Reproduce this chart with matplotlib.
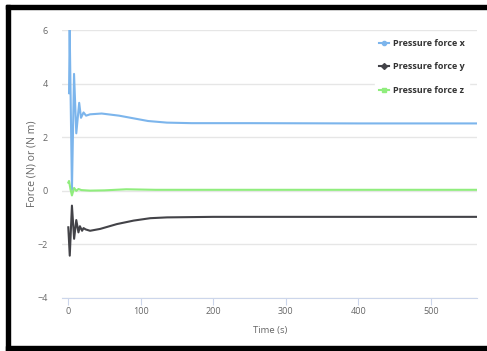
# Pressure force history (x, y, z)

import matplotlib.pyplot as plt
from matplotlib.patches import Rectangle

plt.rcParams['font.family'] = ['Open Sans', 'DejaVu Sans']

# data
tx = [1, 1.9, 5, 7.9, 11, 15, 17.5, 21, 24.5, 30, 46, 70, 90, 110, 136, 170, 250, 400, 564]
fx = [3.64, 6.0, 0.02, 4.36, 2.14, 3.28, 2.72, 2.92, 2.8, 2.85, 2.88, 2.8, 2.7, 2.6, 2.54, 2.52, 2.52, 2.51, 2.51]

ty = [0, 2, 5, 8, 11, 14, 16, 19, 21, 24, 30, 44, 67, 90, 113, 136, 200, 564]
fy = [-1.37, -2.43, -0.56, -1.8, -1.1, -1.56, -1.33, -1.5, -1.4, -1.45, -1.5, -1.43, -1.25, -1.12, -1.03, -1.0, -0.98, -0.98]

tz = [0, 1, 3, 5, 8, 11, 14, 18, 30, 50, 80, 120, 200, 564]
fz = [0.3, 0.36, 0.05, -0.18, 0.1, -0.01, 0.06, 0.02, 0.0, 0.01, 0.05, 0.03, 0.03, 0.03]

series = [
    ('Pressure force x', tx, fx, '#7cb5ec', 'o'),
    ('Pressure force y', ty, fy, '#434348', 'D'),
    ('Pressure force z', tz, fz, '#90ed7d', 's'),
]

W, H = 487, 351
fig = plt.figure(figsize=(W / 100, H / 100), dpi=100)
ax = fig.add_axes([62 / W, 1 - 297.7 / H, (477.3 - 62) / W, (297.7 - 30) / H])

for name, t, f, c, m in series:
    ax.plot(t, f, color=c, lw=1.5, label=name)

ax.set_xlim(-8.7, 564)
ax.set_ylim(-4, 6)
ax.set_xticks([0, 100, 200, 300, 400, 500])
ax.set_yticks([-4, -2, 0, 2, 4, 6])
ax.grid(axis='y', color='#e6e6e6', lw=1)
ax.set_axisbelow(True)
for s in ['top', 'right', 'left']:
    ax.spines[s].set_visible(False)
ax.spines['bottom'].set_color('#ccd6eb')
ax.tick_params(axis='x', colors='#ccd6eb', labelcolor='#666666', labelsize=6.5, length=5, pad=2)
ax.tick_params(axis='y', length=0, labelcolor='#666666', labelsize=6.5, pad=10)
ax.set_xlabel('Time (s)', color='#666666', fontsize=6.8, labelpad=7)
ax.set_ylabel('Force (N) or (N m)', color='#666666', fontsize=7.6)
ax.yaxis.set_label_coords(-0.059, 0.5)

# legend handles with markers like the original
handles = [plt.Line2D([], [], color=c, marker=m, markersize=3, lw=1.5) for _, _, _, c, m in series]
leg = ax.legend(handles, [s[0] for s in series], loc='upper right', bbox_to_anchor=(0.99, 0.997),
                frameon=True, fancybox=False, edgecolor='white', facecolor='white', framealpha=1,
                fontsize=6.5, labelspacing=1.6, handlelength=1.1, handletextpad=0.5, borderpad=0.4)
for txt in leg.get_texts():
    txt.set_fontweight('bold')
    txt.set_color('#333333')

# black frame around the image (left, top, bottom)
fig.patches.append(Rectangle((6 / W, 0), 3.5 / W, 1 - 5 / H, transform=fig.transFigure, color='black'))
fig.patches.append(Rectangle((6 / W, 1 - 9 / H), 1, 4 / H, transform=fig.transFigure, color='black'))
fig.patches.append(Rectangle((6 / W, 0), 1, 5 / H, transform=fig.transFigure, color='black'))

fig.savefig('out.png', dpi=100)
